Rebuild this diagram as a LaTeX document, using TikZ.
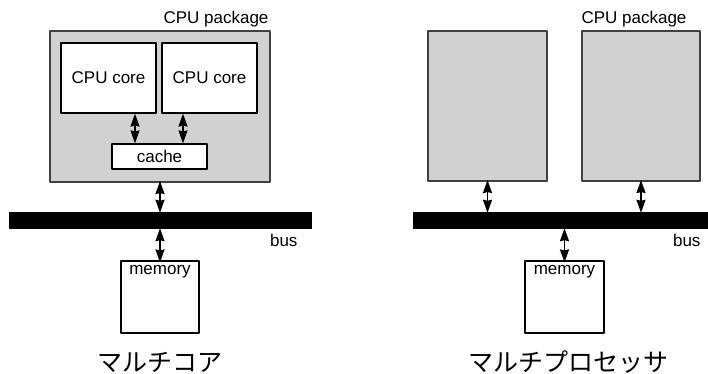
\documentclass[tikz,border=0pt]{standalone}
\usepackage{fontspec}
\setmainfont{Liberation Sans}
\newfontfamily\jpfont{Noto Sans CJK JP}
\usetikzlibrary{arrows.meta,calc,positioning}

\begin{document}
\begin{tikzpicture}[x=1pt, y=-1pt, line join=round,
    every node/.style={font=\fontsize{17}{20}\selectfont},
    pkgbox/.style={draw=black!75, fill=black!18, line width=1.1pt, inner sep=0pt},
    unitbox/.style={draw=black, fill=white, line width=1.2pt, inner sep=0pt},
    busbar/.style={fill=black, inner sep=0pt},
    dbl/.style={{Stealth[length=13pt,width=9pt,inset=1pt]}-{Stealth[length=13pt,width=9pt,inset=1pt]}, line width=1.6pt},
    caption/.style={font=\jpfont\fontsize{25}{28}\selectfont}]
  \useasboundingbox (0,0) rectangle (708,374);
  % --- multicore ---
  \node[pkgbox, minimum width=220pt, minimum height=151pt] (pkg) at (160,106.5) {};
  \node[anchor=east] (pkglbl) at (272,19) {CPU package};
  \foreach \n/\x in {1/108.5, 2/209.5}
    \node[unitbox, minimum width=95pt, minimum height=70pt] (core\n) at (\x,78) {CPU core};
  \node[unitbox, minimum width=95pt, minimum height=25pt] (cache) at (159.5,156.5) {cache};
  \node[busbar, minimum width=303pt, minimum height=17pt] (busL) at (160.5,220.5) {};
  \node[anchor=east] (buslblL) at (301,240) {bus};
  \node[unitbox, minimum width=78pt, minimum height=72pt] (memL) at (160,297) {};
  \node[below=1pt of memL.north] (memlblL) {memory};
  \coordinate (c1) at ($(cache.north)+(-24.5,0)$);
  \coordinate (c2) at ($(cache.north)+(23.5,0)$);
  \draw[dbl] (c1 |- core1.south) -- (c1);
  \draw[dbl] (c2 |- core2.south) -- (c2);
  \draw[dbl] ([yshift=1.5pt]pkg.south) -- ([yshift=-1pt]pkg.south |- busL.north);
  \draw[dbl] ([yshift=1pt]memL.north |- busL.south) -- ([yshift=-2pt]memL.north);
  \node[caption] (capL) at (160,362) {マルチコア};
  % --- multiprocessor ---
  \node[pkgbox, minimum width=119pt, minimum height=150pt] (pkgA) at (487.5,106) {};
  \node[pkgbox, minimum width=118pt, minimum height=150pt] (pkgB) at (641,106) {};
  \node[anchor=east] (pkglblR) at (690,19) {CPU package};
  \node[busbar, minimum width=296pt, minimum height=17pt] (busR) at (561,220.5) {};
  \node[anchor=east] (buslblR) at (704,240) {bus};
  \node[unitbox, minimum width=79pt, minimum height=72pt] (memR) at (564.5,297) {};
  \node[below=1pt of memR.north] (memlblR) {memory};
  \foreach \p in {pkgA, pkgB}
    \draw[dbl] ([yshift=1.5pt]\p.south) -- ([yshift=-1pt]\p.south |- busR.north);
  \draw[dbl] ([yshift=1pt]memR.north |- busR.south) -- ([yshift=-2pt]memR.north);
  \node[caption] (capR) at (568,362) {マルチプロセッサ};
\end{tikzpicture}
\end{document}
